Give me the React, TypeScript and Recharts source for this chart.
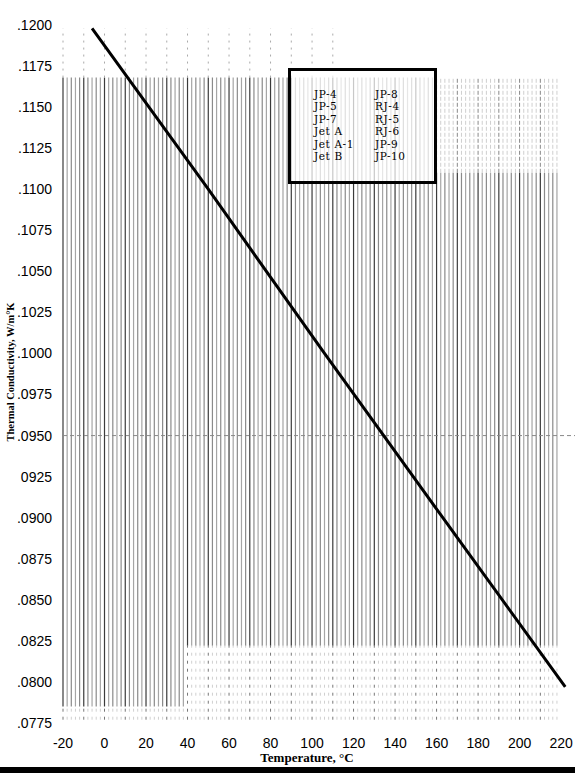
import { LineChart, Line, XAxis, YAxis, ReferenceLine, Legend, Label } from "recharts"

// values
const temperature = [-6, 50, 106, 163, 222]
const conductivity = [0.1198, 0.11, 0.1, 0.09, 0.0797]

const xTicks = [-20, 0, 20, 40, 60, 80, 100, 120, 140, 160, 180, 200, 220]
const yTicks = [
  0.0775, 0.08, 0.0825, 0.085, 0.0875, 0.09, 0.0925, 0.095, 0.0975, 0.1, 0.1025,
  0.105, 0.1075, 0.11, 0.1125, 0.115, 0.1175, 0.12,
]
const yTickLabels = [
  ".0775", ".0800", ".0825", ".0850", ".0875", ".0900", "0925", ".0950", ".0975", ".1000",
  ".1025", ".1050", ".1075", ".1100", ".1125", ".1150", ".1175", ".1200",
]
const fuelsLeft = ["JP-4", "JP-5", "JP-7", "Jet A", "Jet A-1", "Jet B"]
const fuelsRight = ["JP-8", "RJ-4", "RJ-5", "RJ-6", "JP-9", "JP-10"]

const data = temperature.map((t, i) => ({ t, k: conductivity[i] }))

// graph paper background
const gridX = Array.from({ length: 120 }, (_, i) => -20 + i * 2)
const fadeAt = (x: number) => (x < 40 ? 0.0785 : 0.0822)

const tickFont = { fill: "#000", fontSize: 14, fontFamily: "Liberation Sans" }

function FuelBox() {
  return (
    <div
      style={{
        width: 149,
        height: 116,
        boxSizing: "border-box",
        border: "3px solid #000",
        background: "rgba(255,255,255,0.72)",
        fontFamily: "DejaVu Serif",
        fontSize: 10.5,
        letterSpacing: 0.6,
        lineHeight: "12.4px",
        color: "#000",
        display: "flex",
        paddingLeft: 23,
        paddingTop: 17,
      }}
    >
      <div style={{ width: 61 }}>
        {fuelsLeft.map((f) => (
          <div key={f}>{f}</div>
        ))}
      </div>
      <div>
        {fuelsRight.map((f) => (
          <div key={f}>{f}</div>
        ))}
      </div>
    </div>
  )
}

export default function App() {
  return (
    <div style={{ position: "fixed", left: 0, top: 0, width: 575, height: 773, background: "#fff" }}>
      <LineChart
        width={575}
        height={767}
        data={data}
        margin={{ top: 25, right: 0, left: 8, bottom: 14 }}
      >
        {gridX.map((x) => {
          const major = x % 10 === 0
          const right = x >= 160
          return [
            <ReferenceLine
              key={`d${x}`}
              segment={[
                { x, y: fadeAt(x) },
                { x, y: right ? 0.111 : 0.1168 },
              ]}
              stroke={major ? "#3a3a3a" : x % 4 === 0 ? "#8a8a8a" : "#a5a5a5"}
              strokeWidth={1.2}
            />,
            right ? (
              <ReferenceLine
                key={`r${x}`}
                segment={[
                  { x, y: 0.111 },
                  { x, y: 0.1168 },
                ]}
                stroke={major ? "#888" : "#cfcfcf"}
                strokeWidth={1}
                strokeDasharray="4 2"
              />
            ) : null,
            <ReferenceLine
              key={`f${x}`}
              segment={[
                { x, y: 0.0777 },
                { x, y: fadeAt(x) },
              ]}
              stroke={major ? "#777" : "#d0d0d0"}
              strokeWidth={1}
              strokeDasharray="3 5"
            />,
            major && x < 120 ? (
              <ReferenceLine
                key={`t${x}`}
                segment={[
                  { x, y: 0.1168 },
                  { x, y: 0.1198 },
                ]}
                stroke="#aaa"
                strokeWidth={1}
                strokeDasharray="2 5"
              />
            ) : null,
          ]
        })}
        <ReferenceLine y={0.095} stroke="#888" strokeDasharray="4 3" strokeWidth={1} />
        <XAxis
          dataKey="t"
          type="number"
          domain={[-20, 226.7]}
          ticks={xTicks}
          interval={0}
          allowDataOverflow
          axisLine={false}
          tickLine={false}
          tick={tickFont}
          tickMargin={9}
          height={30}
        >
          <Label
            value="Temperature, °C"
            position="bottom"
            offset={0}
            dx={-12}
            style={{ fontFamily: "Liberation Serif", fontWeight: "bold", fontSize: 13, fill: "#000" }}
          />
        </XAxis>
        <YAxis
          type="number"
          domain={[0.0775, 0.12]}
          ticks={yTicks}
          interval={0}
          allowDataOverflow
          axisLine={false}
          tickLine={false}
          tick={tickFont}
          tickMargin={5}
          width={55}
          tickFormatter={(v: number) => yTickLabels[yTicks.indexOf(v)] ?? String(v)}
        >
          <Label
            content={() => (
              <text
                x={10}
                y={372}
                transform="rotate(-90 10 372)"
                textAnchor="middle"
                dominantBaseline="central"
                style={{ fontFamily: "Liberation Serif", fontWeight: "bold", fontSize: 10.5, fill: "#000" }}
              >
                Thermal Conductivity, W/m°K
              </text>
            )}
          />
        </YAxis>
        <Legend
          layout="horizontal"
          verticalAlign="middle"
          align="center"
          content={() => <FuelBox />}
          wrapperStyle={{ position: "absolute", left: 288, top: 68, width: 149, height: 116, zIndex: 5 }}
        />
        <Line
          dataKey="k"
          type="linear"
          stroke="#000"
          strokeWidth={3}
          dot={false}
          isAnimationActive={false}
        />
      </LineChart>
      <div style={{ position: "absolute", left: 0, top: 767, width: 575, height: 6, background: "#000" }} />
    </div>
  )
}
